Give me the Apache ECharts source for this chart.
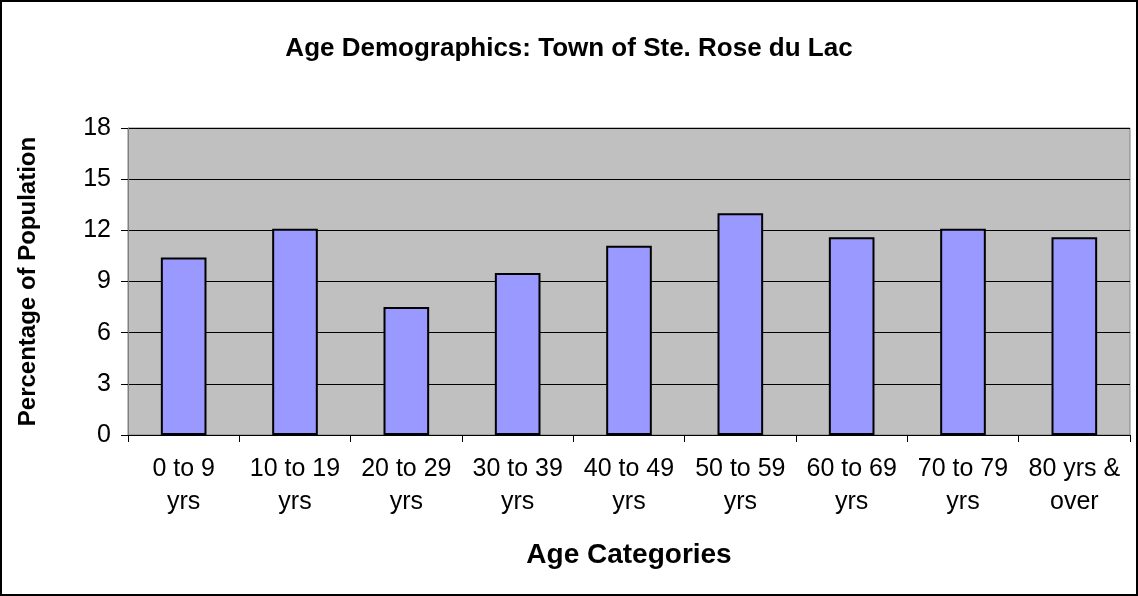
<!DOCTYPE html>
<html>
<head>
<meta charset="utf-8">
<title>Age Demographics</title>
<script src="https://cdn.jsdelivr.net/npm/echarts@6/dist/echarts.min.js"></script>
<style>
  html, body { margin: 0; padding: 0; background: #fff; }
  #main { width: 1138px; height: 596px; }
</style>
</head>
<body>
<div id="main"></div>
<script>
// age groups (x axis), two-line labels like the original
var categories = ['0 to 9\nyrs', '10 to 19\nyrs', '20 to 29\nyrs', '30 to 39\nyrs', '40 to 49\nyrs',
  '50 to 59\nyrs', '60 to 69\nyrs', '70 to 79\nyrs', '80 yrs &\nover'];
// percentage of population
var percentages = [10.4, 12.1, 7.5, 9.5, 11.1, 13.0, 11.6, 12.1, 11.6];

var chart = echarts.init(document.getElementById('main'), null, { renderer: 'canvas' });

var font = 'Liberation Sans, Arial, sans-serif';

var option = {
  backgroundColor: '#ffffff',
  animation: false,
  title: {
    text: 'Age Demographics: Town of Ste. Rose du Lac',
    left: 'center',
    top: 31,
    textStyle: { fontFamily: font, fontSize: 26, fontWeight: 'bold', color: '#000' }
  },
  graphic: [{
    type: 'rect',
    shape: { x: 1, y: 1, width: 1136, height: 594 },
    style: { fill: null, stroke: '#000', lineWidth: 2 },
    silent: true
  }],
  grid: {
    left: 128,
    right: 8,
    top: 128,
    bottom: 161,
    show: true,
    backgroundColor: '#C0C0C0',
    borderColor: '#808080',
    borderWidth: 1
  },
  xAxis: {
    type: 'category',
    data: categories,
    name: 'Age Categories',
    nameLocation: 'middle',
    nameGap: 106,
    nameTextStyle: { fontFamily: font, fontSize: 28, fontWeight: 'bold', color: '#000' },
    axisLine: { show: true, lineStyle: { color: '#000', width: 1 } },
    axisTick: { show: true, length: 7, interval: 0, lineStyle: { color: '#000' } },
    axisLabel: {
      interval: 0,
      hideOverlap: false,
      fontFamily: font, fontSize: 25, color: '#000',
      lineHeight: 33, margin: 18
    },
    splitLine: { show: false }
  },
  yAxis: {
    type: 'value',
    min: 0,
    max: 18,
    interval: 3,
    name: 'Percentage of Population',
    nameLocation: 'middle',
    nameGap: 88,
    nameRotate: 90,
    nameTextStyle: { fontFamily: font, fontSize: 24, fontWeight: 'bold', color: '#000' },
    axisLine: { show: true, lineStyle: { color: '#808080', width: 1 } },
    axisTick: { show: true, length: 7, lineStyle: { color: '#000' } },
    axisLabel: { fontFamily: font, fontSize: 25, color: '#000', margin: 17 },
    splitLine: { show: true, lineStyle: { color: '#000', width: 1 } }
  },
  series: [{
    type: 'bar',
    data: percentages,
    barCategoryGap: '59%',
    itemStyle: { color: '#9999FF', borderColor: '#000', borderWidth: 2 }
  }]
};

chart.setOption(option);
</script>
</body>
</html>
